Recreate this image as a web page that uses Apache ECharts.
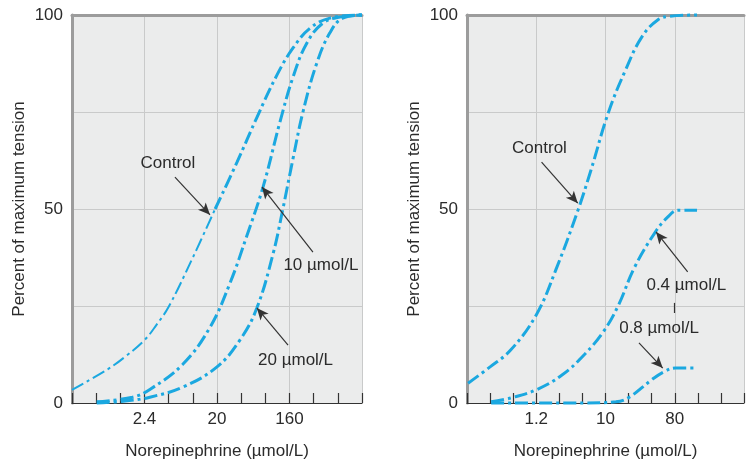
<!DOCTYPE html>
<html lang="en">
<head>
    <meta charset="UTF-8">
    <title>Norepinephrine</title>
    <script src="https://cdn.jsdelivr.net/npm/echarts@6/dist/echarts.min.js"></script>
    <style>
        html, body { margin: 0; padding: 0; background: #fff; }
        #chart { width: 747px; height: 466px; }
    </style>
</head>
<body>
    <div id="chart"></div>
    <script>
        // left panel: concentration (umol/L) and percent of max tension
        const leftBase = 0.3
        const leftTicks = ['2.4', '20', '160']
        const leftControlX = [0.3, 0.85, 1.43, 2.4, 3.4, 4.8, 9.6, 18.2, 34, 60, 107, 170, 277, 489, 1230]
        const leftControlY = [3.4, 8.8, 12.2, 16.2, 20.2, 24.8, 37.5, 50, 62, 73.5, 84.5, 91.5, 96.6, 99.2, 100]
        const left10X = [0.61, 1.7, 2.8, 7.2, 15.7, 28, 45, 72, 116, 170, 253, 400, 654, 1230]
        const left10Y = [0.3, 1.5, 3.5, 10, 19.5, 31, 43, 55.7, 72.2, 84, 92.8, 97.9, 99.5, 100]
        const left20X = [0.61, 1.38, 2.8, 7.2, 19.2, 37, 60, 96, 127, 170, 226, 336, 489, 706, 1230]
        const left20Y = [0, 0.5, 1.5, 4.1, 9.3, 16.2, 24.4, 38.5, 50, 63, 75, 87.6, 95.4, 99.2, 100]

        // right panel
        const rightBase = 0.15
        const rightTicks = ['1.2', '10', '80']
        const rightControlX = [0.155, 0.3, 0.56, 1.2, 2.16, 4.2, 6.2, 10.4, 17.5, 28.5, 46, 67, 150]
        const rightControlY = [5.1, 9.3, 13.7, 22.7, 34.3, 49.7, 60, 74.7, 85.8, 94.3, 98.7, 99.7, 100]
        const right04X = [0.31, 0.56, 1.2, 2.6, 5.1, 9.1, 14, 23, 42, 62, 85, 150]
        const right04Y = [0.3, 1.3, 3.4, 7.2, 12.5, 18.5, 25, 35, 43.8, 47.9, 49.7, 49.7]
        const right08X = [0.31, 4.8, 13.1, 19.6, 38, 55, 78, 150]
        const right08Y = [0, 0, 0.3, 1.5, 5.9, 8, 9, 9]

        const font = 'Liberation Sans, Arial, Helvetica, sans-serif'
        const blue = '#1ba8e0'
        const txt = '#2b2b2b'
        const dash = [13, 4, 3, 4]

        // position on the log2 axis (one unit = doubling)
        function pts(xs, ys, base) {
            return xs.map((c, i) => [Math.log2(c / base), ys[i]])
        }

        function curve(data, gi, width, extra) {
            return Object.assign({
                type: 'line',
                xAxisIndex: gi * 3,
                yAxisIndex: gi * 2,
                data: data,
                smooth: 0.4,
                showSymbol: false,
                symbol: 'none',
                clip: false,
                silent: true,
                lineStyle: { color: blue, width: width, type: dash }
            }, extra || {})
        }

        // annotation text + arrow, in axis coordinates
        function notes(labels, arrows) {
            return {
                markPoint: {
                    symbol: 'rect',
                    symbolSize: 1,
                    itemStyle: { color: 'rgba(0,0,0,0)' },
                    label: { show: true, position: 'inside', formatter: '{b}', color: txt, fontSize: 17, fontFamily: font },
                    data: labels.map(l => ({ name: l[0], coord: [l[1], l[2]] }))
                },
                markLine: {
                    silent: true,
                    symbol: ['none', 'arrow'],
                    symbolSize: [8, 12],
                    label: { show: false },
                    lineStyle: { color: '#333', width: 1.2, type: 'solid' },
                    data: arrows.map(a => [
                        { coord: [a[0], a[1]], symbol: 'none' },
                        { coord: [a[2], a[3]], symbol: a[4] === false ? 'none' : 'arrow' }
                    ])
                }
            }
        }

        const grids = [
            { left: 72, top: 15, width: 290, height: 388 },
            { left: 467, top: 15, width: 290, height: 388 }
        ]

        const xAxes = []
        const yAxes = []
        const tickSets = [leftTicks, rightTicks]
        grids.forEach((g, gi) => {
            // labels + grid lines
            xAxes.push({
                type: 'value', gridIndex: gi, min: 0, max: 12, interval: 3, position: 'bottom',
                name: 'Norepinephrine (µmol/L)', nameLocation: 'middle', nameGap: 40,
                nameTextStyle: { color: txt, fontSize: 17, fontFamily: font },
                axisLine: { show: true, lineStyle: { color: '#333', width: 1.2 } },
                axisTick: { show: false },
                axisLabel: {
                    color: txt, fontSize: 17, fontFamily: font, margin: 8,
                    formatter: v => (v === 3 ? tickSets[gi][0] : v === 6 ? tickSets[gi][1] : v === 9 ? tickSets[gi][2] : '')
                },
                splitLine: { show: true, lineStyle: { color: '#c9caca', width: 1 } }
            })
            // small ticks at each doubling
            xAxes.push({
                type: 'value', gridIndex: gi, min: 0, max: 12, interval: 1, position: 'bottom',
                axisLine: { show: false },
                axisTick: { show: true, inside: true, length: 10, lineStyle: { color: '#333', width: 1.2 } },
                axisLabel: { show: false },
                splitLine: { show: false }
            })
            // heavy top border
            xAxes.push({
                type: 'value', gridIndex: gi, min: 0, max: 12, position: 'top',
                axisLine: { show: true, lineStyle: { color: '#9c9c9c', width: 3 } },
                axisTick: { show: false }, axisLabel: { show: false }, splitLine: { show: false }
            })
            yAxes.push({
                type: 'value', gridIndex: gi, min: 0, max: 100, interval: 25, position: 'left',
                name: 'Percent of maximum tension', nameLocation: 'middle', nameGap: 44,
                nameTextStyle: { color: txt, fontSize: 17, fontFamily: font },
                axisLine: { show: true, lineStyle: { color: '#9c9c9c', width: 1.5 } },
                axisTick: { show: false },
                axisLabel: {
                    color: txt, fontSize: 17, fontFamily: font, margin: 9,
                    formatter: v => (v % 50 === 0 ? String(v) : '')
                },
                splitLine: { show: true, lineStyle: { color: '#c9caca', width: 1 } }
            })
            yAxes.push({
                type: 'value', gridIndex: gi, min: 0, max: 100, position: 'right',
                axisLine: { show: true, lineStyle: { color: '#9c9c9c', width: 3 } },
                axisTick: { show: false }, axisLabel: { show: false }, splitLine: { show: false }
            })
        })

        const lc = pts(leftControlX, leftControlY, leftBase)
        const rc = pts(rightControlX, rightControlY, rightBase)

        const series = [
            // control drawn thinner at the low end
            curve(lc.slice(0, 8), 0, 2),
            curve(lc.slice(7), 0, 3, notes(
                [['Control', 3.97, 61.9], ['10 µmol/L', 10.3, 35.6], ['20 µmol/L', 9.25, 11.1]],
                [[4.26, 58.2, 5.71, 48.5], [9.97, 38.9, 7.86, 55.7], [8.94, 14.9, 7.65, 24.5]]
            )),
            curve(pts(left10X, left10Y, leftBase), 0, 3),
            curve(pts(left20X, left20Y, leftBase), 0, 3),
            curve(rc, 1, 3, notes(
                [['Control', 3.14, 65.7], ['0.4 µmol/L', 9.5, 30.4], ['0.8 µmol/L', 8.32, 19.3]],
                [[3.23, 62.1, 4.8, 51.5], [9.56, 33.8, 8.19, 44.1], [8.98, 25.8, 8.98, 23.2, false], [7.45, 15.5, 8.48, 9.0]]
            )),
            curve(pts(right04X, right04Y, rightBase), 1, 3),
            curve(pts(right08X, right08Y, rightBase), 1, 3)
        ]

        const chart = echarts.init(document.getElementById('chart'), null, { renderer: 'canvas' })
        chart.setOption({
            animation: false,
            backgroundColor: '#fff',
            grid: grids.map(g => Object.assign({ show: true, backgroundColor: '#ebecec', borderWidth: 0 }, g)),
            xAxis: xAxes,
            yAxis: yAxes,
            series: series
        })
    </script>
</body>
</html>
